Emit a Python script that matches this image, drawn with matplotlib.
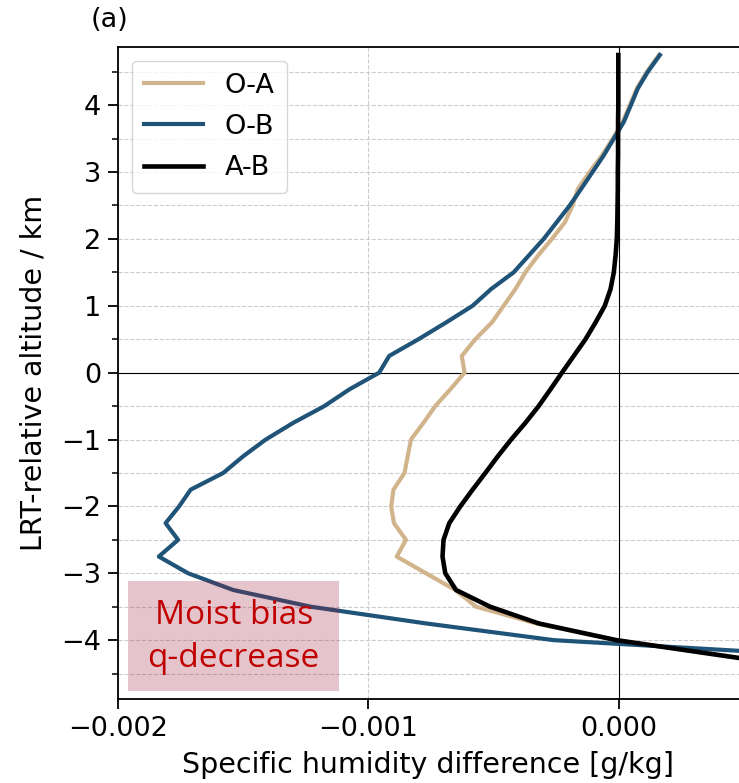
import numpy as np
import matplotlib
matplotlib.use("Agg")
import matplotlib.pyplot as plt
from matplotlib.patches import Rectangle
from matplotlib.ticker import MultipleLocator

# LRT-relative altitude levels (km), top to bottom
altitude = [4.75, 4.5, 4.25, 4.0, 3.75, 3.5, 3.25, 3.0, 2.75, 2.5, 2.25, 2.0,
            1.75, 1.5, 1.25, 1.0, 0.75, 0.5, 0.25, 0.0, -0.25, -0.5, -0.75,
            -1.0, -1.25, -1.5, -1.75, -2.0, -2.25, -2.5, -2.75, -3.0, -3.25,
            -3.5, -3.75, -4.0, -4.25, -4.5, -4.75]

# Specific humidity differences (g/kg)
o_minus_a = [0.000160, 0.000112, 0.000072, 0.000044, 0.000016, -0.000024,
             -0.000067, -0.000117, -0.000163, -0.000185, -0.000215, -0.000267,
             -0.000323, -0.000373, -0.000413, -0.000460, -0.000507, -0.000573,
             -0.000627, -0.000616, -0.000673, -0.000733, -0.000780, -0.000830,
             -0.000843, -0.000856, -0.000900, -0.000909, -0.000898, -0.000850,
             -0.000887, -0.000770, -0.000653, -0.000570, -0.000330, -0.000005,
             0.000450, 0.000950, 0.001500]
o_minus_b = [0.000164, 0.000116, 0.000076, 0.000048, 0.000020, -0.000020,
             -0.000060, -0.000105, -0.000150, -0.000196, -0.000248, -0.000300,
             -0.000360, -0.000420, -0.000510, -0.000584, -0.000690, -0.000800,
             -0.000917, -0.000957, -0.001076, -0.001176, -0.001300, -0.001410,
             -0.001500, -0.001580, -0.001710, -0.001756, -0.001810, -0.001760,
             -0.001837, -0.001720, -0.001540, -0.001230, -0.000770, -0.000260,
             0.000900, 0.001800, 0.002600]
a_minus_b = [-0.000002, -0.000002, -0.000002, -0.000002, -0.000003, -0.000003,
             -0.000003, -0.000004, -0.000004, -0.000005, -0.000006, -0.000008,
             -0.000013, -0.000020, -0.000033, -0.000056, -0.000093, -0.000133,
             -0.000180, -0.000227, -0.000273, -0.000320, -0.000373, -0.000430,
             -0.000483, -0.000533, -0.000584, -0.000633, -0.000677, -0.000700,
             -0.000704, -0.000693, -0.000650, -0.000514, -0.000320, -0.000010,
             0.000450, 0.000900, 0.001400]

series_labels = ["O-A", "O-B", "A-B"]
series_colors = ["#d2b48c", "#1f5378", "#000000"]

fig = plt.figure(figsize=(7.39, 7.83), dpi=100)
ax = fig.add_axes([118 / 739, 84 / 783, 621 / 739, 652 / 783])

for vals, lab, col, lw in zip([o_minus_a, o_minus_b, a_minus_b], series_labels,
                              series_colors, [3.0, 3.0, 3.3]):
    ax.plot(vals, altitude, color=col, lw=lw, label=lab)

ax.axhline(0, color="black", lw=0.8, zorder=1.5)
ax.axvline(0, color="black", lw=0.8, zorder=1.5)

ax.set_xlim(-0.002, 0.00048)
ax.set_ylim(-4.88, 4.87)
ax.xaxis.set_major_locator(MultipleLocator(0.001))
ax.yaxis.set_major_locator(MultipleLocator(1))
ax.yaxis.set_minor_locator(MultipleLocator(0.5))
ax.grid(True, which="major", axis="x", ls="--", color="#cccccc", lw=0.8)
ax.grid(True, which="both", axis="y", ls="--", color="#cccccc", lw=0.8)
ax.set_axisbelow(True)

ax.spines["right"].set_visible(False)
for s in ["left", "top", "bottom"]:
    ax.spines[s].set_linewidth(1.3)
ax.tick_params(axis="both", which="major", labelsize=19.5, length=7, width=1.3,
               pad=5)
ax.tick_params(axis="y", which="minor", length=4.5, width=1.1)

ax.set_xlabel("Specific humidity difference [g/kg]", fontsize=20.5, labelpad=7)
ax.set_ylabel("LRT-relative altitude / km", fontsize=20.5, labelpad=10)

ax.legend(loc="upper left", fontsize=19.5, handlelength=2.2, borderpad=0.45,
          labelspacing=0.56, handletextpad=0.8, borderaxespad=0.5,
          framealpha=0.8, edgecolor="#cccccc")

fig.text(91 / 739, 1 - 20 / 783, "(a)", fontsize=19.5, va="center", ha="left")

# shaded annotation panel for the lower-left region
ax.add_patch(Rectangle((-0.00196, -4.76), 0.000844, 1.64, facecolor="#a01e3c",
                       alpha=0.26, edgecolor="none", zorder=3))
ax.text(-0.001538, -3.95, "Moist bias\nq-decrease", ha="center", va="center",
        fontsize=24, color="#c00000", family="Open Sans", linespacing=1.38,
        zorder=4)

fig.savefig("out.png", dpi=100)
